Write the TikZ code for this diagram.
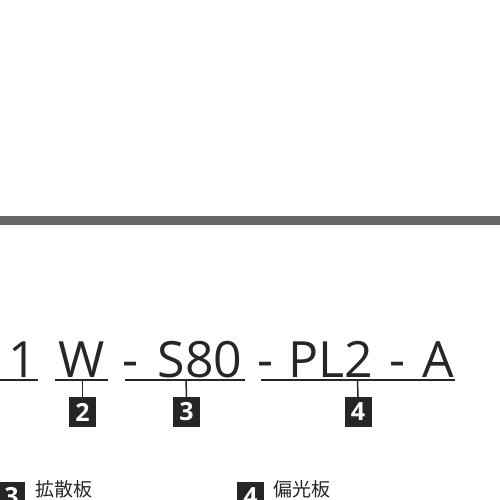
\documentclass[tikz,border=0pt]{standalone}
\usepackage{fontspec}
\setmainfont{Open Sans}
\newfontfamily\jpfont{Noto Sans CJK JP}
\definecolor{barra}{HTML}{666666}
\definecolor{tinta}{HTML}{262626}

\begin{document}
\begin{tikzpicture}[x=1pt, y=-1pt,
    codigo/.style={anchor=base, inner sep=0pt, text=tinta, font=\fontsize{50}{50}\selectfont},
    caixa/.style={fill=tinta, text=white, minimum width=27pt, minimum height=30pt, inner sep=0pt, font=\bfseries\fontsize{25}{25}\selectfont},
    traco/.style={draw=tinta, line width=2pt},
    haste/.style={draw=tinta, line width=1.5pt},
    legenda/.style={anchor=west, inner sep=0pt, text=tinta, font=\jpfont\fontsize{19}{19}\selectfont}]

    \useasboundingbox (0,0) rectangle (500,500);

    % Barra cinza horizontal
    \fill[barra] (0,216) rectangle (500,225);

    % --- Codigo do produto ---
    \node[codigo] (um)  at (23,377)    {1};
    \node[codigo] (w)   at (81.5,377)  {W};
    \node[codigo] (h1)  at (131,377)   {-};
    \node[codigo] (s80) at (200,377)   {S80};
    \node[codigo] (h2)  at (265.5,377) {-};
    \node[codigo] (pl2) at (331,377)   {PL2};
    \node[codigo] (h3)  at (397.5,377) {-};
    \node[codigo] (a)   at (438,377)   {A};

    % Coordenadas dos sublinhados
    \coordinate (U1a) at (0,380);   \coordinate (U1b) at (38,380);
    \coordinate (U2a) at (55,380);  \coordinate (U2b) at (108,380);
    \coordinate (U3a) at (125,380); \coordinate (U3b) at (245,380);
    \coordinate (U4a) at (261,380); \coordinate (U4b) at (455,380);

    % Pontos de saida das hastes
    \coordinate (T2) at (82.5,380);
    \coordinate (T3) at (186,380);
    \coordinate (T4) at (357.5,380);

    % --- Sublinhados ---
    \draw[traco] (U1a) -- (U1b);
    \draw[traco] (U2a) -- (U2b);
    \draw[traco] (U3a) -- (U3b);
    \draw[traco] (U4a) -- (U4b);

    % --- Caixas numeradas ---
    \node[caixa] (n2) at (82.5,412) {2};
    \node[caixa] (n3) at (186.5,412) {3};
    \node[caixa] (n4) at (358,412) {4};

    % Hastes ligando sublinhado e caixa
    \draw[haste] (T2) -- (n2.north);
    \draw[haste] (T3) -- (n3.north);
    \draw[haste] (T4) -- (n4.north);

    % --- Legendas ---
    \node[caixa] (l3) at (11.5,497) {3};
    \node[legenda] (d3) at (35,489) {拡散板};
    \node[caixa] (l4) at (250.5,497) {4};
    \node[legenda] (d4) at (273,489) {偏光板};

\end{tikzpicture}
\end{document}
